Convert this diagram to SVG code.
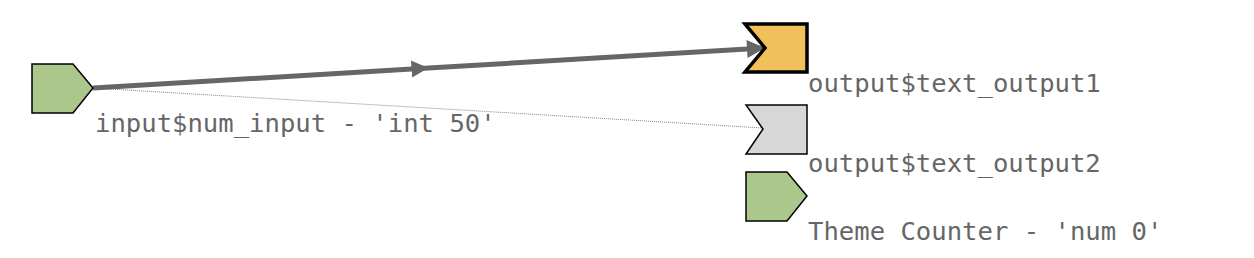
<svg xmlns="http://www.w3.org/2000/svg" width="1254" height="258" viewBox="0 0 1254 258">
<style>
.lbl{font-family:"DejaVu Sans Mono","Liberation Mono",monospace;font-size:25.6px;fill:#666}
.node{stroke:#000;stroke-width:1.5;stroke-linejoin:miter}
</style>
<defs>
<marker id="ah" viewBox="0 0 10 10" refX="10" refY="5" markerWidth="4" markerHeight="3.6" orient="auto" markerUnits="strokeWidth">
<path d="M0,0 L10,5 L0,10 Z" fill="#666"/>
</marker>
<marker id="am" viewBox="0 0 10 10" refX="5" refY="5" markerWidth="3.4" markerHeight="3.6" orient="auto" markerUnits="strokeWidth">
<path d="M0,0 L10,5 L0,10 Z" fill="#666"/>
</marker>
</defs>
<rect width="1254" height="258" fill="#fff"/>
<g id="connectors">
<path d="M93,88 L763,128" stroke="#888" stroke-width="1" fill="none" stroke-dasharray="1,1"/>
<path d="M93,88 L420,68.5 L765,48" stroke="#666" stroke-width="5" fill="none" marker-mid="url(#am)" marker-end="url(#ah)"/>
</g>
<g id="node-input">
<polygon class="node" points="32,64 73,64 93,88 73,113 32,113" fill="#abc78b"/>
<text class="lbl" x="95" y="132">input$num_input - 'int 50'</text>
</g>
<g id="node-output1">
<polygon points="745,24 807,24 807,72 745,72 765,48" fill="#f0c05a" stroke="#000" stroke-width="3.5"/>
<text class="lbl" x="808" y="92">output$text_output1</text>
</g>
<g id="node-output2">
<polygon class="node" points="746,105 807,105 807,154 746,154 763,129" fill="#d7d7d7"/>
<text class="lbl" x="808" y="172">output$text_output2</text>
</g>
<g id="node-theme">
<polygon class="node" points="746,172 787,172 807,196 787,221 746,221" fill="#abc78b"/>
<text class="lbl" x="808" y="240">Theme Counter - 'num 0'</text>
</g>
</svg>
